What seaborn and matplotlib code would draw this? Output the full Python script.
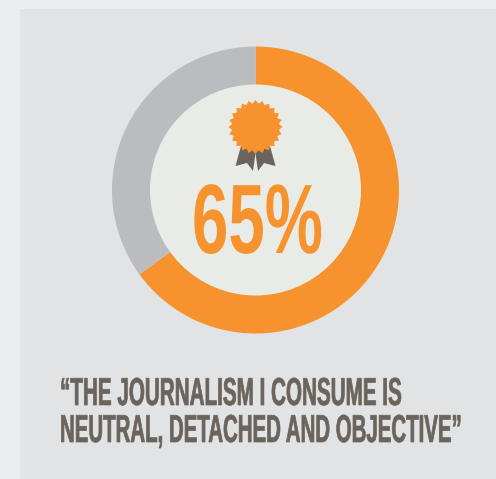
import numpy as np
import matplotlib
matplotlib.use("Agg")
import matplotlib.pyplot as plt
import matplotlib.patheffects as pe
from matplotlib.patches import Circle, Polygon, Rectangle
from matplotlib.transforms import Affine2D
import seaborn as sns

# values
labels = ["Agree", "Other"]
shares = [65, 35]
big_label = "65%"
quote_lines = ["\u201cTHE JOURNALISM I CONSUME IS",
               "NEUTRAL, DETACHED AND OBJECTIVE\u201d"]

ORANGE = "#F7932F"
GREY = "#BABCBF"
DISC = "#E9EBE7"
PANEL = "#E2E3E5"
PAGE = "#EBECEE"
INK = "#6B645C"

sns.set_theme(style="white")
plt.rcParams["font.family"] = ["Liberation Sans Narrow", "Liberation Sans", "DejaVu Sans"]


class Squeeze(pe.AbstractPathEffect):
    """Reshapes glyphs around a fixed point, there is no condensed font here."""

    def __init__(self, x0, y0, sx, sy, stroke=0.0):
        super().__init__()
        self.x0 = x0
        self.y0 = y0
        self.sx = sx
        self.sy = sy
        self.stroke = stroke

    def draw_path(self, renderer, gc, tpath, affine, rgbFace=None):
        squeeze = (Affine2D().translate(-self.x0, -self.y0).scale(self.sx, self.sy)
                   .translate(self.x0, self.y0))
        gc0 = renderer.new_gc()
        gc0.copy_properties(gc)
        gc0.set_linewidth(self.stroke)
        if rgbFace is not None:
            gc0.set_foreground(rgbFace)
        renderer.draw_path(gc0, tpath, affine + squeeze, rgbFace)
        gc0.restore()


fig = plt.figure(figsize=(4.96, 4.79), dpi=100, facecolor=PAGE)
ax = fig.add_axes([0, 0, 1, 1])


def py(y):
    # picture rows run downwards
    return 479 - y


ax.add_patch(Rectangle((20, 0), 476, py(9), facecolor=PANEL, edgecolor="none", zorder=0))

wedges, _ = ax.pie(shares, labels=None, colors=[ORANGE, GREY], startangle=90, counterclock=False,
                   center=(255.5, py(190)), radius=143.5,
                   wedgeprops=dict(width=38.5, linewidth=0), frame=True)
ax.add_patch(Circle((255.5, py(190)), 105.5, facecolor=DISC, edgecolor="none", zorder=2))

# ribbon tails behind the rosette
ax.add_patch(Polygon([(241, py(146)), (235.5, py(166)), (247, py(163)), (253, py(171)), (256, py(150))],
                     facecolor=INK, edgecolor="none", zorder=3))
ax.add_patch(Polygon([(255, py(150)), (258, py(171)), (264, py(163)), (275.5, py(166)), (270, py(146))],
                     facecolor=INK, edgecolor="none", zorder=3))

# rosette
n_teeth = 24
ang = np.linspace(0, 2 * np.pi, 2 * n_teeth, endpoint=False)
rad = np.where(np.arange(2 * n_teeth) % 2 == 0, 27, 23.5)
ax.add_patch(Polygon(np.column_stack([255.5 + rad * np.cos(ang), py(127) + rad * np.sin(ang)]),
                     facecolor=ORANGE, edgecolor="none", zorder=4))

ax.set_xlim(0, 496)
ax.set_ylim(0, 479)
ax.set_aspect("auto")
ax.axis("off")


def fitted_text(x, baseline, s, size, stretch, color, width, stroke=0.0):
    # size keeps the text box inside the picture, stretch brings the letters up to full height
    t = ax.text(x, py(baseline), s, fontsize=size, color=color, fontweight="bold",
                ha="left", va="baseline", zorder=5)
    natural = t.get_window_extent(fig.canvas.get_renderer()).width
    t.set_path_effects([Squeeze(x, py(baseline), width / natural, stretch, stroke)])
    return t


fitted_text(192, 253, big_label, 71, 1.0, ORANGE, 131)
fitted_text(60, 405, quote_lines[0], 15, 1.87, INK, 342, stroke=0.5)
fitted_text(60, 442, quote_lines[1], 15, 1.87, INK, 402, stroke=0.5)

fig.savefig("out.png", dpi=100, facecolor=PAGE)
